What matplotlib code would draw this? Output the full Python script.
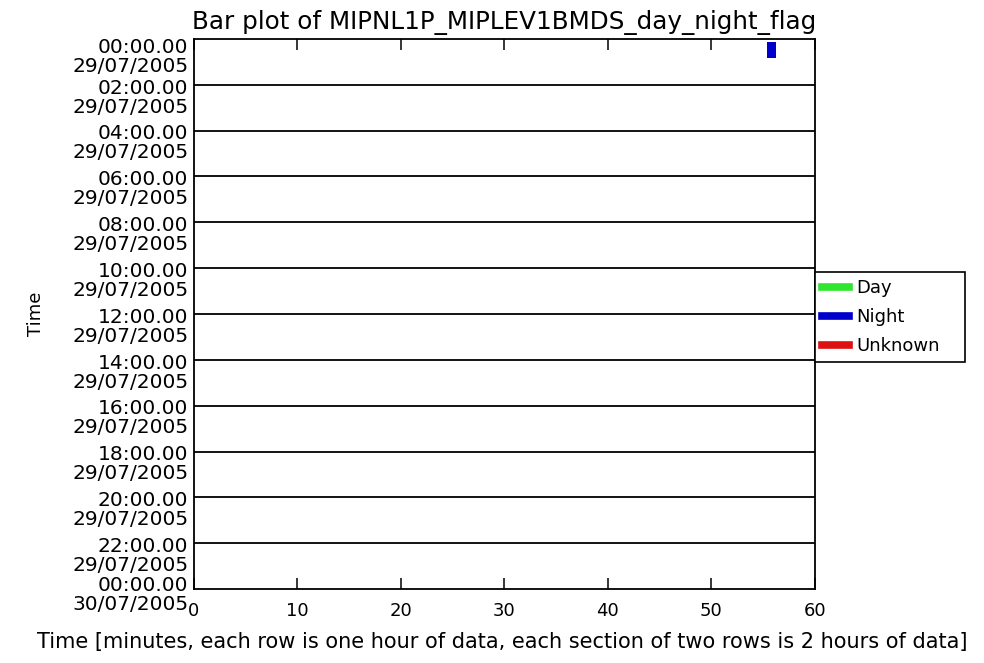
import matplotlib.pyplot as plt
from matplotlib.lines import Line2D
from matplotlib.transforms import offset_copy

# data: one bar per record (start minute, hour row, flag)
bar_start_min = [55.4]
bar_width_min = [0.9]
bar_hour_row = [0]
bar_flag = ['Night']

flag_names = ['Day', 'Night', 'Unknown']
flag_colors = {'Day': '#2ee62e', 'Night': '#0000cc', 'Unknown': '#dd1111'}

section_hours = [0, 2, 4, 6, 8, 10, 12, 14, 16, 18, 20, 22, 24]
section_labels = ['00:00.00\n29/07/2005', '02:00.00\n29/07/2005', '04:00.00\n29/07/2005',
                  '06:00.00\n29/07/2005', '08:00.00\n29/07/2005', '10:00.00\n29/07/2005',
                  '12:00.00\n29/07/2005', '14:00.00\n29/07/2005', '16:00.00\n29/07/2005',
                  '18:00.00\n29/07/2005', '20:00.00\n29/07/2005', '22:00.00\n29/07/2005',
                  '00:00.00\n30/07/2005']
x_ticks = [0, 10, 20, 30, 40, 50, 60]

fig = plt.figure(figsize=(9.84, 6.63), dpi=100)
ax = fig.add_axes([0.197, 0.1116, 0.631, 0.8296])

# bars
for s, w, r, f in zip(bar_start_min, bar_width_min, bar_hour_row, bar_flag):
    ax.bar(s, 0.7, width=w, bottom=r + 0.13, align='edge', color=flag_colors[f])

# section lines
for h in section_hours[1:-1]:
    ax.axhline(h, color='black', linewidth=1.3)

ax.set_xlim(0, 60)
ax.set_ylim(24, 0)
for sp in ax.spines.values():
    sp.set_linewidth(1.3)

ax.set_xticks(x_ticks)
ax.set_xticklabels([str(t) for t in x_ticks], fontsize=13)
ax.tick_params(axis='x', direction='in', length=8, top=True, width=1.1, pad=9)

# y labels: time line roughly centred on the section line, date under it
ax.set_yticks(section_hours)
ax.set_yticklabels([])
ax.tick_params(axis='y', length=0)
ytrans = ax.get_yaxis_transform()
for i, (h, lab) in enumerate(zip(section_hours, section_labels)):
    if i == 0:
        dy = 1
    elif i == len(section_hours) - 1:
        dy = 9.5
    else:
        dy = 4.5
    tr = offset_copy(ytrans, fig=fig, x=-4, y=dy, units='points')
    ax.text(0, h, lab, transform=tr, ha='right', va='top', fontsize=14.5,
            linespacing=1.0)

ax.set_xlabel('Time [minutes, each row is one hour of data, each section of two rows is 2 hours of data]',
              fontsize=15)
ax.xaxis.set_label_coords(0.496, -0.078)
ax.set_ylabel('Time', fontsize=13)
ax.yaxis.set_label_coords(-0.24, 0.5)
ax.set_title('Bar plot of MIPNL1P_MIPLEV1BMDS_day_night_flag', fontsize=17.7, pad=7)

handles = [Line2D([0], [0], color=flag_colors[n], linewidth=5.5) for n in flag_names]
leg = ax.legend(handles, flag_names, loc='upper left',
                bbox_to_anchor=(1.0, 0.411, 0.242, 0.166), mode='expand',
                borderaxespad=0, fancybox=False, edgecolor='black', fontsize=13,
                handlelength=1.5, handletextpad=0.4, labelspacing=0.62, framealpha=1,
                borderpad=0.4)
leg.get_frame().set_linewidth(1.2)

fig.savefig('out.png', dpi=100, facecolor='white')
